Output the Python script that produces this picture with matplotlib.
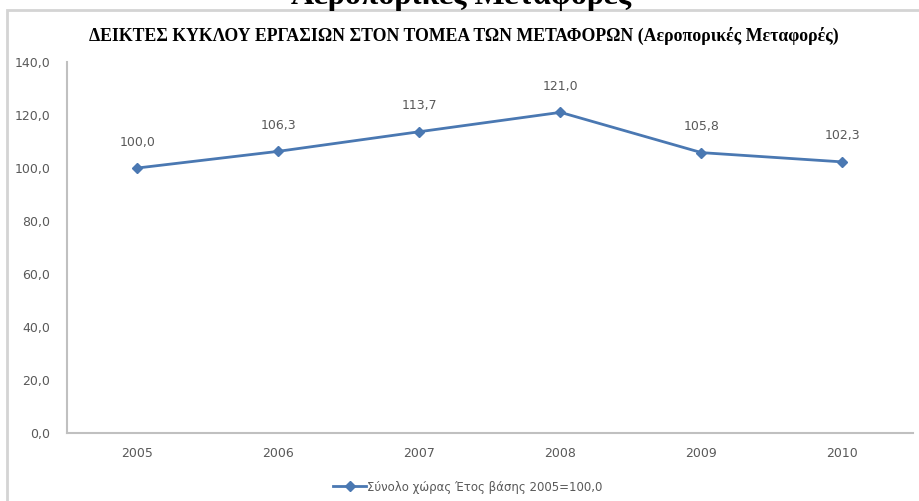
import matplotlib
matplotlib.use('Agg')
import matplotlib.pyplot as plt
from matplotlib.patches import Rectangle
from matplotlib.ticker import FuncFormatter

years = ['2005', '2006', '2007', '2008', '2009', '2010']
index_values = [100.0, 106.3, 113.7, 121.0, 105.8, 102.3]
series_label = 'Σύνολο χώρας Έτος βάσης 2005=100,0'
chart_title = 'ΔΕΙΚΤΕΣ ΚΥΚΛΟΥ ΕΡΓΑΣΙΩΝ ΣΤΟΝ ΤΟΜΕΑ ΤΩΝ ΜΕΤΑΦΟΡΩΝ (Αεροπορικές Μεταφορές)'
page_heading = 'Αεροπορικές Μεταφορές'

def comma(v, pos=None):
    return ('%.1f' % v).replace('.', ',')

line_col = '#4a78b2'
txt_col = '#595959'

fig = plt.figure(figsize=(9.2, 5.01), dpi=100)
ax = fig.add_axes([67/920., 1-433/501., (913-67)/920., (433-62)/501.])

x = range(len(years))
ax.plot(x, index_values, color=line_col, lw=2, marker='D', ms=5,
        label=series_label)
for xi, v in zip(x, index_values):
    ax.annotate(comma(v), (xi, v), xytext=(0, 14), textcoords='offset points',
                ha='center', va='bottom', fontsize=9, color=txt_col)

ax.set_xlim(-0.5, len(years)-0.5)
ax.set_ylim(0, 140)
ax.set_yticks(range(0, 141, 20))
ax.yaxis.set_major_formatter(FuncFormatter(comma))
ax.set_xticks(list(x))
ax.set_xticklabels(years)
ax.tick_params(length=0, labelsize=9, labelcolor=txt_col)
ax.tick_params(axis='y', pad=12)
ax.tick_params(axis='x', pad=10)
for s in ['top', 'right']:
    ax.spines[s].set_visible(False)
for s in ['left', 'bottom']:
    ax.spines[s].set_color('#c0c0c0')
    ax.spines[s].set_linewidth(1.5)

ax.legend(loc='center left', bbox_to_anchor=(333/920., 1-487/501.),
          bbox_transform=fig.transFigure, frameon=False,
          labelcolor=txt_col, handlelength=2.8, handletextpad=0.1,
          borderpad=0, borderaxespad=0, prop={'size': 8.5})

# outer chart frame (screenshot crop)
fig.patches.append(Rectangle((7/920., -0.1), 1.2, 1-10/501.+0.1,
                             transform=fig.transFigure, fill=False,
                             edgecolor='#d4d4d4', lw=2))

fig.text(464/920., 1-36/501., chart_title, ha='center', va='center',
         fontsize=12.8, fontweight='bold', family='Liberation Serif')
# page heading above the chart, cut off by the screenshot edge
fig.text(461/920., 1-4/501., page_heading, ha='center', va='baseline',
         fontsize=23, fontweight='bold', family='Liberation Serif')

fig.savefig('out.png', dpi=100)
